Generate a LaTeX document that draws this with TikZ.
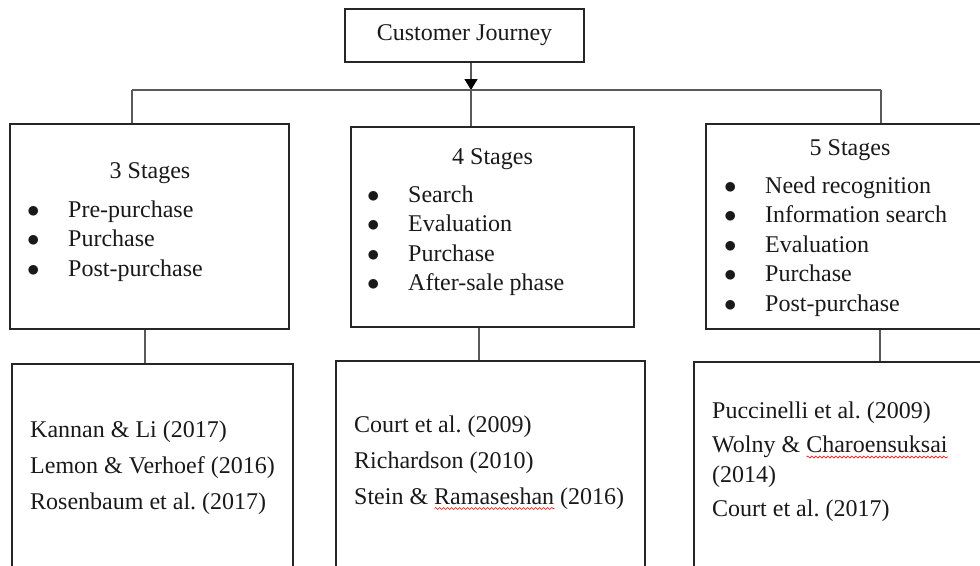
\documentclass[tikz,border=0pt]{standalone}
\usepackage{fontspec}
\setmainfont{Liberation Serif}
\usetikzlibrary{arrows.meta, positioning, decorations.pathmorphing}

\newcommand{\itm}[1]{\makebox[41pt][l]{$\bullet$}#1}
\newsavebox{\wavebox}
\newcommand{\redwave}[1]{\sbox{\wavebox}{#1}\rlap{\tikz[baseline=0pt]\draw[red, line width=0.6pt,
    decorate, decoration={snake, amplitude=1pt, segment length=4pt}] (0pt,-4.5pt) -- (\the\wd\wavebox,-4.5pt);}\usebox{\wavebox}}

\begin{document}
\frenchspacing
\begin{tikzpicture}[x=1pt, y=-1pt,
    box/.style={draw=black!85, line width=1.6pt, rectangle, inner sep=0pt},
    conn/.style={draw=black!65, line width=1.3pt},
    txt/.style={inner sep=0pt, text=black!90, font=\fontsize{24}{29.5}\selectfont}]
    \useasboundingbox (0,0) rectangle (980,565);
    \clip (0,0) rectangle (980,565);

    \node[box, txt, minimum width=239pt, minimum height=53pt] (cj) at (464.5,35.5) {Customer Journey};

    \node[box, minimum width=279pt, minimum height=205pt] (s3) at (149.5,226.5) {};
    \node[box, minimum width=283pt, minimum height=200pt] (s4) at (492.5,227) {};
    \node[box, minimum width=280pt, minimum height=205pt] (s5) at (846,226.5) {};

    \node[box, minimum width=281pt, minimum height=260pt] (r3) at (152.5,494) {};
    \node[box, minimum width=309pt, minimum height=260pt] (r4) at (490.5,491) {};
    \node[box, minimum width=300pt, minimum height=260pt] (r5) at (844,492) {};

    \node[txt, anchor=base] (t3) at (150,178) {3 Stages};
    \node[txt, anchor=base west] (l3) at (27,217) {\begin{tabular}[t]{@{}l@{}}
        \itm{Pre-purchase}\\ \itm{Purchase}\\ \itm{Post-purchase}\end{tabular}};

    \node[txt, anchor=base] (t4) at (492.5,164) {4 Stages};
    \node[txt, anchor=base west] (l4) at (367,202) {\begin{tabular}[t]{@{}l@{}}
        \itm{Search}\\ \itm{Evaluation}\\ \itm{Purchase}\\ \itm{After-sale phase}\end{tabular}};

    \node[txt, anchor=base] (t5) at (850,155) {5 Stages};
    \node[txt, anchor=base west] (l5) at (724,193) {\begin{tabular}[t]{@{}l@{}}
        \itm{Need recognition}\\ \itm{Information search}\\ \itm{Evaluation}\\
        \itm{Purchase}\\ \itm{Post-purchase}\end{tabular}};

    \node[txt, anchor=base west] (p3) at (30,437) {\begin{tabular}[t]{@{}l@{}}
        Kannan \& Li (2017)\\[6.5pt] Lemon \& Verhoef (2016)\\[6.5pt] Rosenbaum et al. (2017)\end{tabular}};
    \node[txt, anchor=base west] (p4) at (354,432) {\begin{tabular}[t]{@{}l@{}}
        Court et al. (2009)\\[6.5pt] Richardson (2010)\\[6.5pt] Stein \& \redwave{Ramaseshan} (2016)\end{tabular}};
    \node[txt, anchor=base west] (p5) at (712,418) {\begin{tabular}[t]{@{}l@{}}
        Puccinelli et al. (2009)\\[5pt] Wolny \& \redwave{Charoensuksai}\\ (2014)\\[5pt]
        Court et al. (2017)\end{tabular}};

    \coordinate (hub) at (471,90);
    \coordinate (hl) at (132,90);
    \coordinate (hr) at (881,90);
    \coordinate (d3) at (145,0);
    \coordinate (d4) at (479,0);
    \coordinate (d5) at (880,0);

    \draw[conn, -{Triangle[width=13pt,length=11pt,color=black]}] (cj.south -| hub) -- (hub);
    \draw[conn] (hl) -- (hr);
    \draw[conn] (hl) -- (hl |- s3.north);
    \draw[conn] (hub) -- (hub |- s4.north);
    \draw[conn] (hr) -- (hr |- s5.north);
    \draw[conn] (s3.south -| d3) -- (r3.north -| d3);
    \draw[conn] (s4.south -| d4) -- (r4.north -| d4);
    \draw[conn] (s5.south -| d5) -- (r5.north -| d5);
\end{tikzpicture}
\end{document}
